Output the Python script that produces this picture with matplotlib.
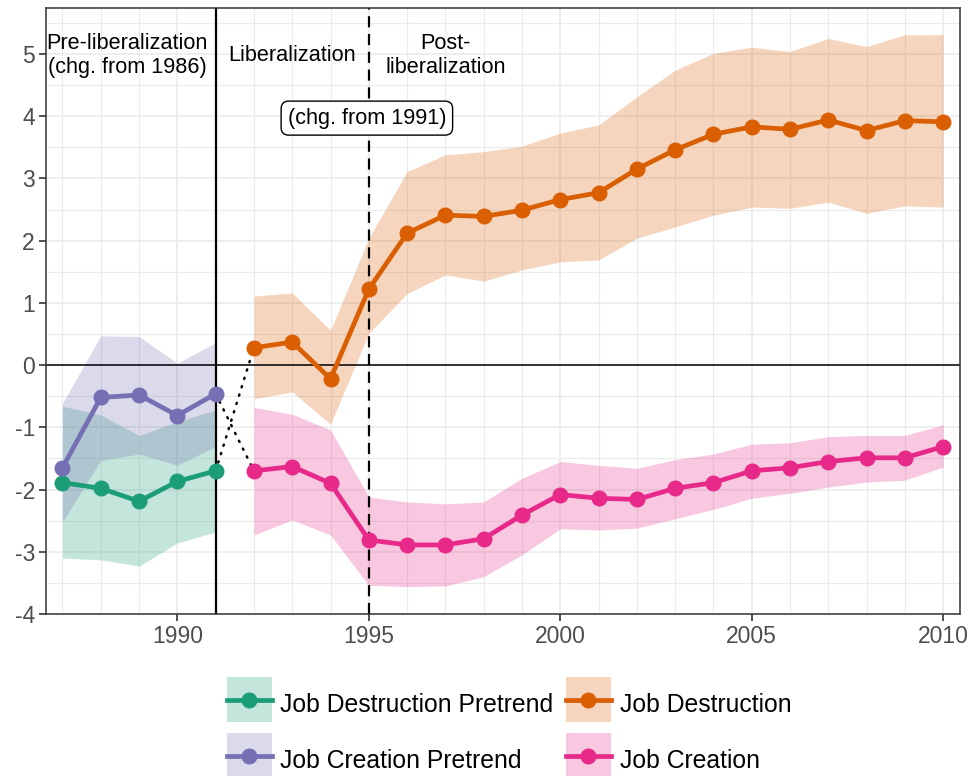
import numpy as np
import matplotlib
matplotlib.use('Agg')
import matplotlib.pyplot as plt
from matplotlib.patches import Patch, Rectangle
from matplotlib.lines import Line2D
from matplotlib.legend_handler import HandlerPatch

plt.rcParams['font.family'] = ['Liberation Sans', 'DejaVu Sans']
plt.rcParams['axes.unicode_minus'] = False

# pretrend years (change from 1986)
pre_years = [1987, 1988, 1989, 1990, 1991]
jd_pre = [-1.89, -1.98, -2.19, -1.87, -1.70]
jd_pre_hi = [-0.66, -0.80, -1.13, -0.91, -0.72]
jd_pre_lo = [-3.10, -3.13, -3.23, -2.86, -2.68]
jc_pre = [-1.65, -0.52, -0.48, -0.81, -0.46]
jc_pre_hi = [-0.61, 0.47, 0.46, 0.03, 0.36]
jc_pre_lo = [-2.52, -1.53, -1.43, -1.61, -1.31]

# post years (change from 1991)
years = list(range(1992, 2011))
jd = [0.28, 0.37, -0.22, 1.22, 2.12, 2.41, 2.39, 2.49, 2.66, 2.77, 3.15,
      3.46, 3.71, 3.83, 3.79, 3.94, 3.77, 3.93, 3.91]
jd_hi = [1.11, 1.16, 0.56, 2.04, 3.11, 3.38, 3.43, 3.52, 3.73, 3.86, 4.31,
         4.74, 5.01, 5.11, 5.04, 5.25, 5.12, 5.31, 5.31]
jd_lo = [-0.54, -0.43, -0.95, 0.51, 1.15, 1.45, 1.35, 1.53, 1.66, 1.69, 2.04,
         2.22, 2.41, 2.54, 2.52, 2.62, 2.44, 2.56, 2.54]
jc = [-1.70, -1.63, -1.90, -2.81, -2.89, -2.89, -2.79, -2.41, -2.08, -2.14, -2.16,
      -1.98, -1.89, -1.70, -1.65, -1.55, -1.49, -1.49, -1.31]
jc_hi = [-0.68, -0.79, -1.04, -2.12, -2.20, -2.23, -2.20, -1.82, -1.55, -1.61, -1.66,
         -1.52, -1.43, -1.27, -1.25, -1.15, -1.13, -1.13, -0.96]
jc_lo = [-2.73, -2.49, -2.73, -3.54, -3.56, -3.55, -3.40, -3.05, -2.63, -2.65, -2.62,
         -2.47, -2.32, -2.14, -2.06, -1.96, -1.88, -1.85, -1.64]

green = '#1B9E77'
purple = '#7570B3'
orange = '#D95F02'
pink = '#E7298A'
band_alpha = 0.26

fig = plt.figure(figsize=(9.73, 7.76), dpi=100)
ax = fig.add_axes([0.0473, 0.2088, 0.9393, 0.7809])

# grid
ax.set_xlim(1986.57, 2010.44)
ax.set_ylim(-4.0, 5.74)
ax.set_xticks([1990, 1995, 2000, 2005, 2010])
ax.set_xticks(range(1987, 2011), minor=True)
ax.set_yticks(range(-4, 6))
ax.set_yticks(np.arange(-4, 5.75, 0.5), minor=True)
ax.grid(True, which='major', color='#EBEBEB', lw=1.2, zorder=0)
ax.grid(True, which='minor', color='#EBEBEB', lw=0.8, zorder=0)
ax.set_axisbelow(True)
ax.tick_params(which='minor', length=0)
ax.tick_params(which='major', length=5, width=1.2, color='#333333',
               labelsize=16.5, labelcolor='#4D4D4D', pad=3)
for s in ax.spines.values():
    s.set_color('#333333')
    s.set_linewidth(1.1)

# bands
ax.fill_between(pre_years, jd_pre_lo, jd_pre_hi, color=green, alpha=band_alpha, lw=0, zorder=1)
ax.fill_between(pre_years, jc_pre_lo, jc_pre_hi, color=purple, alpha=band_alpha, lw=0, zorder=1)
ax.fill_between(years, jd_lo, jd_hi, color=orange, alpha=band_alpha, lw=0, zorder=1)
ax.fill_between(years, jc_lo, jc_hi, color=pink, alpha=band_alpha, lw=0, zorder=1)

# reference lines
ax.axhline(0, color='black', lw=1.1, zorder=2)
ax.axvline(1991, color='black', lw=1.6, zorder=2)
ax.axvline(1995, color='black', lw=1.6, ls=(0, (5, 3)), zorder=2)

# dotted connectors
ax.plot([pre_years[-1], years[0]], [jd_pre[-1], jd[0]], color='black', lw=1.8, ls=(0, (0.5, 3)),
        dash_capstyle='round', zorder=2)
ax.plot([pre_years[-1], years[0]], [jc_pre[-1], jc[0]], color='black', lw=1.8, ls=(0, (0.5, 3)),
        dash_capstyle='round', zorder=2)

mk = dict(marker='o', markersize=10.5, lw=3.4, zorder=3)
ax.plot(pre_years, jd_pre, color=green, **mk)
ax.plot(pre_years, jc_pre, color=purple, **mk)
ax.plot(years, jd, color=orange, **mk)
ax.plot(years, jc, color=pink, **mk)

# annotations
ax.text(1988.69, 4.97, 'Pre-liberalization\n(chg. from 1986)', ha='center', va='center',
        fontsize=15.6, linespacing=1.2, zorder=5)
ax.text(1993.0, 4.98, 'Liberalization', ha='center', va='center', fontsize=15.6, zorder=5)
ax.text(1997.0, 4.97, 'Post-\nliberalization', ha='center', va='center', fontsize=15.6,
        linespacing=1.2, zorder=5)
ax.text(1994.95, 3.97, '(chg. from 1991)', ha='center', va='center', fontsize=15.6, zorder=5,
        bbox=dict(boxstyle='round,pad=0.3,rounding_size=0.35', fc='white', ec='black', lw=1))

# legend: square key (32 pt) centred on the line
KEY = 32.4

def square_key(legend, orig_handle, xdescent, ydescent, width, height, fontsize):
    cy = (height - ydescent) / 2
    return Rectangle((-xdescent, cy - KEY / 2), width, KEY)

def key(c):
    return (Patch(facecolor=c, alpha=band_alpha, edgecolor='none'),
            Line2D([], [], color=c, marker='o', markersize=10.5, lw=3.4))

handles = [key(green), key(purple), key(orange), key(pink)]
labels = ['Job Destruction Pretrend', 'Job Creation Pretrend', 'Job Destruction', 'Job Creation']
fig.legend(handles, labels, ncol=2, loc='center', bbox_to_anchor=(0.523, 0.057),
           frameon=False, fontsize=17.8, handlelength=1.82, handleheight=1.6,
           labelspacing=0.98, columnspacing=0.49, handletextpad=0.36,
           handler_map={Patch: HandlerPatch(patch_func=square_key)})

fig.savefig('out.png', dpi=100)
